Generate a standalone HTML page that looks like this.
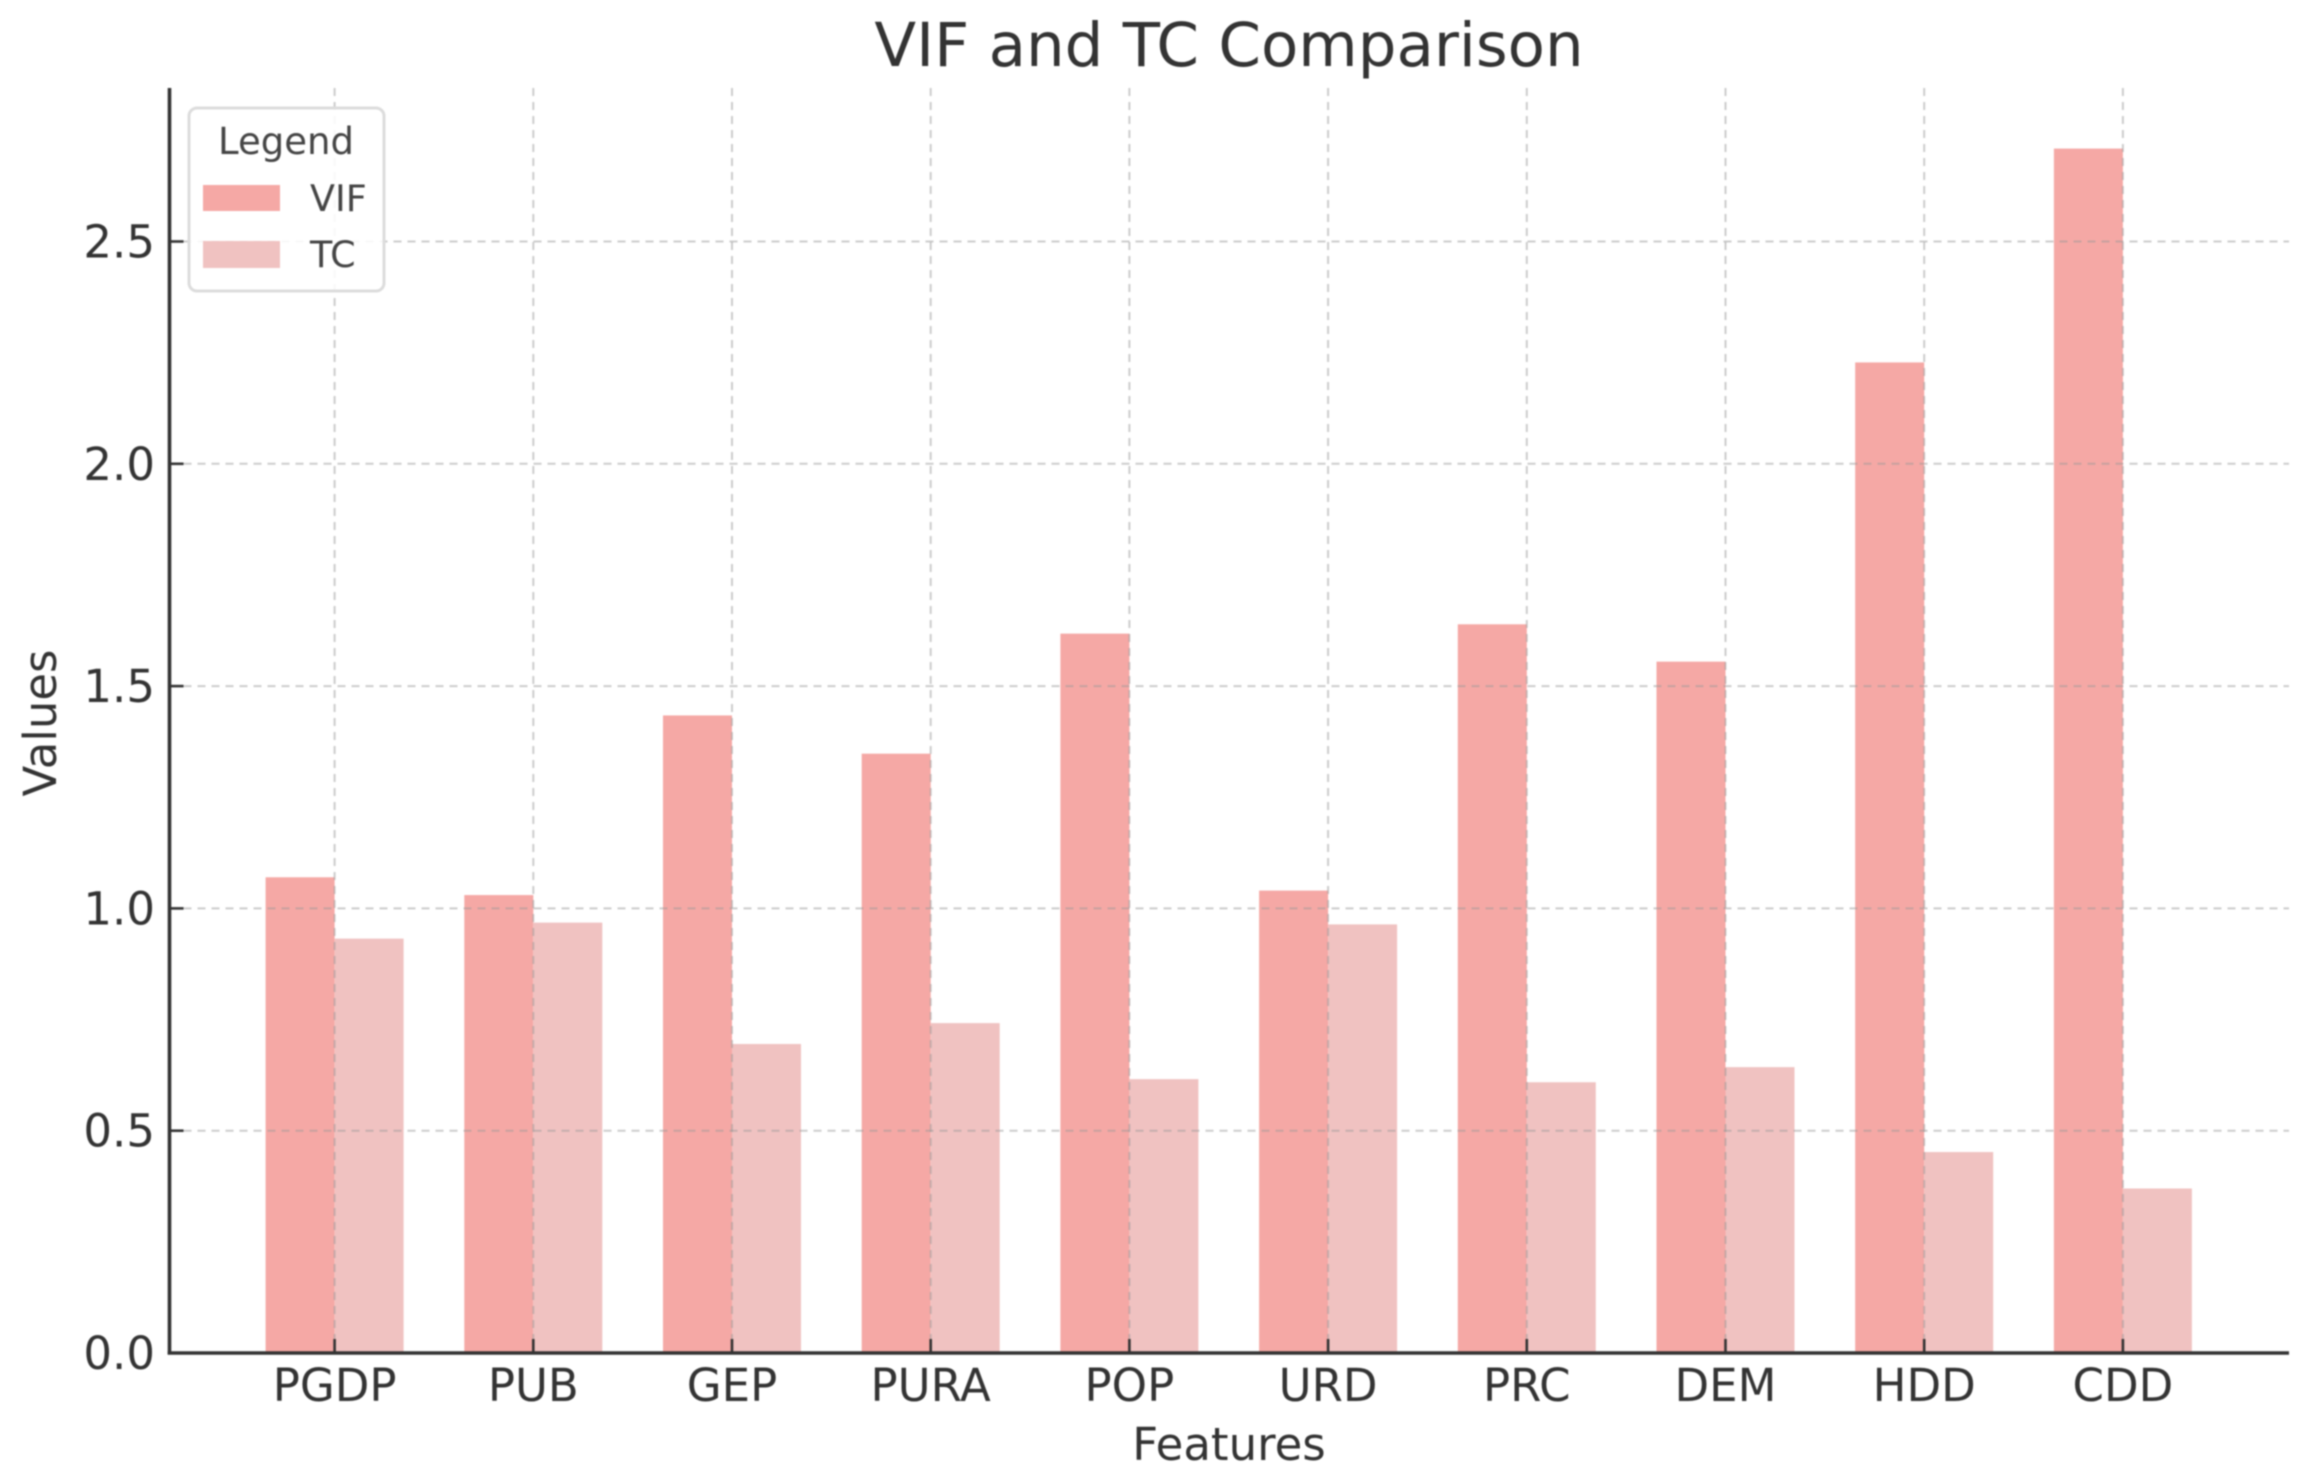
<!DOCTYPE html>
<html lang="en">
<head>
<meta charset="utf-8">
<title>VIF and TC Comparison</title>
<style>
  html, body { margin: 0; padding: 0; background: #fff; }
  svg { display: block; filter: blur(0.9px); }
  text { font-family: "DejaVu Sans", "Liberation Sans", sans-serif; fill: #333; }
</style>
</head>
<body>
<svg id="chart" xmlns="http://www.w3.org/2000/svg" width="2308" height="1483" viewBox="0 0 2308 1483">
  <rect x="0" y="0" width="2308" height="1483" fill="#ffffff"/>
  <g id="bars"></g>
  <g id="grid"></g>
  <g id="axes">
    <line x1="169.5" y1="88" x2="169.5" y2="1354.5" stroke="#333" stroke-width="3.6"/>
    <line x1="167.7" y1="1353" x2="2289" y2="1353" stroke="#333" stroke-width="3.6"/>
  </g>
  <g id="tick-group"></g>
  <text x="1229" y="66" font-size="61" text-anchor="middle">VIF and TC Comparison</text>
  <text x="1229" y="1460" font-size="45" text-anchor="middle">Features</text>
  <text x="0" y="0" font-size="45" text-anchor="middle" transform="translate(56 723) rotate(-90)">Values</text>
  <g>
    <rect x="189" y="108" width="195" height="183" rx="8" ry="8" fill="#ffffff" fill-opacity="0.85" stroke="#dcdcdc" stroke-width="3"/>
    <text x="286" y="154" font-size="37" text-anchor="middle" style="fill:#444">Legend</text>
    <rect x="203" y="185" width="77" height="26" fill="#f5a8a5"/>
    <text x="310" y="211" font-size="36.5" style="fill:#444">VIF</text>
    <rect x="203" y="241" width="77" height="27" fill="#f0c2c1"/>
    <text x="310" y="267" font-size="36.5" style="fill:#444">TC</text>
  </g>
</svg>
<script>
const categories = ["PGDP", "PUB", "GEP", "PURA", "POP", "URD", "PRC", "DEM", "HDD", "CDD"];
const vifValues = [1.07, 1.03, 1.434, 1.348, 1.618, 1.04, 1.639, 1.555, 2.228, 2.709];
const tcValues = [0.932, 0.968, 0.695, 0.742, 0.616, 0.964, 0.609, 0.643, 0.452, 0.37];
const yTickValues = [0, 0.5, 1, 1.5, 2, 2.5];
const yTickLabels = ["0.0", "0.5", "1.0", "1.5", "2.0", "2.5"];

const NS = "http://www.w3.org/2000/svg";
const plotLeft = 169.5, plotRight = 2289, plotTop = 88, plotBottom = 1353;
const firstCenter = 334.6, bandStep = 198.7, barWidth = 69;
const unitPx = 444.6;

function xScale(i) { return firstCenter + i * bandStep; }
function yScale(v) { return plotBottom - v * unitPx; }
function make(tag, attrs, parent) {
  const el = document.createElementNS(NS, tag);
  for (const k in attrs) el.setAttribute(k, attrs[k]);
  parent.appendChild(el);
  return el;
}

const barsG = document.getElementById("bars");
const gridG = document.getElementById("grid");
const ticksG = document.getElementById("tick-group");

categories.forEach(function (cat, i) {
  const cx = xScale(i);
  const vifBar = make("rect", { x: cx - barWidth, y: yScale(vifValues[i]), width: barWidth, height: plotBottom - yScale(vifValues[i]), fill: "#f5a8a5" }, barsG);
  
  
  const tcBar = make("rect", { x: cx, y: yScale(tcValues[i]), width: barWidth, height: plotBottom - yScale(tcValues[i]), fill: "#f0c2c1" }, barsG);
  
  

  const vGrid = make("line", { x1: cx, y1: plotTop, x2: cx, y2: plotBottom, stroke: "#999", "stroke-opacity": 0.5, "stroke-width": 2, "stroke-dasharray": "8 6" }, gridG);
  
  

  const tick = make("line", { x1: cx, y1: plotBottom - 14, x2: cx, y2: plotBottom, stroke: "#333", "stroke-width": 2.6 }, ticksG);
  
  

  const label = make("text", { x: cx, y: 1401, "font-size": 45, "text-anchor": "middle" }, ticksG);
  label.textContent = cat;
  
  
});

yTickValues.forEach(function (v, i) {
  const y = yScale(v);
  if (v > 0) {
    const hGrid = make("line", { x1: plotLeft, y1: y, x2: plotRight, y2: y, stroke: "#999", "stroke-opacity": 0.5, "stroke-width": 2, "stroke-dasharray": "8 6" }, gridG);
    
    

    const tick = make("line", { x1: plotLeft, y1: y, x2: plotLeft + 14, y2: y, stroke: "#333", "stroke-width": 2.6 }, ticksG);
    
    
  }
  const label = make("text", { x: 155, y: y + 16, "font-size": 45, "text-anchor": "end" }, ticksG);
  label.textContent = yTickLabels[i];
  
  
});
</script>
</body>
</html>
